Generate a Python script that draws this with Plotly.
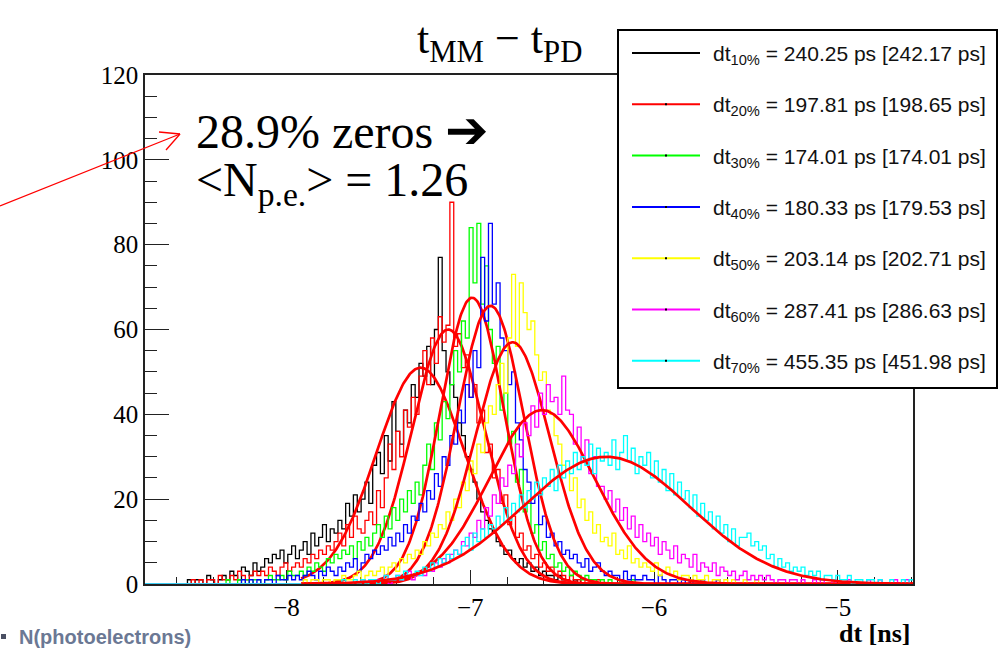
import numpy as np
import plotly.graph_objects as go

# ---------------- data ----------------
BIN_LO = -8.77
BIN_W = 0.021
N_BINS = 199
AXIS_X = [-8.77, -4.591]
AXIS_Y = [0, 120]
FIT_LO = -7.92

series_names = ["10%", "20%", "30%", "40%", "50%", "60%", "70%"]
series_colors = ["#000000", "#ff0000", "#00ff00", "#0000ff", "#ffff00", "#ff00ff", "#00ffff"]
sigma_ps = [240.25, 197.81, 174.01, 180.33, 203.14, 287.41, 455.35]
rms_ps = [242.17, 198.65, 174.01, 179.53, 202.71, 286.63, 451.98]
fit_amp = [51, 60, 67.5, 65.6, 57, 41, 30]
fit_mean = [-7.27, -7.12, -6.99, -6.89, -6.77, -6.61, -6.26]

# counts per bin, starting at the given bin index
black_start = 10
black_counts = [0, 1, 0, 1, 1, 0, 2, 1, 0, 1,
                2, 1, 3, 2, 1, 4, 3, 2, 5, 3,
                4, 6, 5, 7, 6, 8, 5, 7, 9, 6,
                8, 10, 7, 12, 9, 11, 14, 10, 13, 12,
                15, 13, 19, 16, 21, 17, 20, 24, 19, 28,
                31, 26, 35, 29, 43, 36, 33, 41, 38, 47,
                44, 52, 49, 56, 47, 60, 77, 55, 50, 47,
                44, 38, 35, 30, 27, 24, 20, 17, 15, 13,
                12, 10, 9, 7, 8, 6, 5, 6, 4, 5,
                3, 4, 2, 3, 2, 2, 1, 2, 1, 1,
                0, 1, 0]
red_start = 12
red_counts = [1, 0, 1, 0, 1, 1, 0, 2,
              1, 1, 2, 1, 3, 2, 1, 2, 3, 2,
              3, 2, 4, 3, 2, 4, 5, 3, 4, 5,
              4, 6, 5, 7, 6, 8, 7, 9, 8, 10,
              12, 9, 14, 11, 16, 13, 12, 15, 17, 14,
              22, 18, 25, 33, 27, 36, 30, 41, 37, 44,
              40, 49, 55, 47, 58, 52, 63, 57, 61, 90,
              56, 59, 51, 54, 44, 47, 38, 41, 31, 33,
              25, 27, 19, 21, 14, 16, 11, 12, 8, 9,
              6, 7, 4, 5, 3, 4, 2, 3, 2, 1,
              2, 1, 1, 0, 1, 1, 0, 1]
green_start = 20
green_counts = [0, 1, 0, 0, 1, 0, 1, 0, 1, 1,
                0, 1, 2, 1, 1, 2, 1, 3, 2, 2,
                3, 2, 4, 3, 5, 4, 3, 6, 5, 7,
                6, 8, 7, 9, 6, 10, 8, 11, 9, 12,
                14, 11, 16, 13, 18, 15, 20, 17, 22, 19,
                24, 21, 28, 33, 27, 38, 34, 43, 39, 47,
                55, 50, 62, 58, 84, 71, 85, 66, 75, 60,
                52, 56, 41, 45, 33, 36, 24, 27, 17, 19,
                12, 14, 8, 10, 6, 7, 4, 5, 3, 4,
                2, 3, 2, 1, 2, 1, 1, 0, 1, 0,
                1, 0, 0, 1, 0, 0, 1]
blue_start = 25
blue_counts = [1, 0, 1, 0, 1,
               0, 1, 1, 0, 2, 1, 1, 2, 1, 2,
               1, 2, 3, 2, 1, 3, 2, 4, 3, 2,
               4, 3, 5, 4, 6, 3, 5, 7, 6, 8,
               7, 9, 8, 11, 9, 12, 10, 14, 12, 16,
               15, 19, 17, 22, 20, 26, 23, 30, 28, 35,
               33, 41, 38, 47, 44, 55, 51, 77, 62, 85,
               66, 71, 58, 55, 47, 50, 38, 34, 27, 24,
               19, 21, 14, 16, 11, 12, 9, 10, 7, 8,
               6, 7, 5, 4, 6, 3, 4, 5, 3, 2,
               3, 2, 2, 1, 3, 1, 2, 1, 1, 2,
               1, 1, 0, 2, 1, 0, 1, 1, 0, 1,
               0, 1, 0, 0, 1, 0, 0, 0, 1]
yellow_start = 40
yellow_counts = [0, 1, 0, 1, 1, 0, 1, 1, 0, 1,
                 1, 2, 1, 1, 2, 3, 1, 2, 3, 2,
                 3, 4, 2, 4, 5, 3, 6, 5, 7, 6,
                 8, 7, 10, 9, 12, 11, 14, 13, 17, 15,
                 20, 18, 24, 22, 29, 26, 33, 31, 38, 42,
                 40, 47, 52, 45, 58, 73, 56, 71, 64, 60,
                 62, 54, 48, 50, 41, 40, 35, 33, 28, 27,
                 22, 25, 18, 20, 15, 17, 12, 14, 10, 11,
                 9, 12, 7, 8, 6, 9, 5, 6, 4, 5,
                 4, 3, 5, 2, 3, 4, 2, 3, 1, 2,
                 2, 1, 2, 1, 1, 2, 0, 1, 1, 0,
                 1, 0, 1, 0, 0, 1, 0, 0, 1]
magenta_start = 55
magenta_counts = [0, 1, 0, 1, 0,
                  1, 1, 2, 0, 1, 2, 1, 2, 3, 1,
                  2, 3, 2, 4, 3, 5, 4, 6, 5, 7,
                  8, 7, 10, 9, 12, 11, 15, 13, 18, 16,
                  21, 19, 25, 23, 28, 26, 33, 30, 38, 35,
                  42, 37, 45, 40, 47, 43, 44, 40, 49, 41,
                  40, 33, 37, 29, 34, 26, 30, 23, 23, 20,
                  22, 17, 20, 15, 18, 13, 16, 11, 14, 10,
                  12, 9, 11, 7, 10, 8, 6, 9, 5, 7,
                  6, 4, 7, 3, 5, 4, 3, 5, 2, 4,
                  3, 2, 3, 1, 2, 3, 1, 2, 1, 2,
                  1, 2, 1, 0, 1, 1, 0, 1, 1, 0,
                  1, 0, 0, 1, 0, 1, 0, 0, 1, 0,
                  0, 0, 1, 0, 0, 0, 0, 1, 0, 0,
                  1, 0, 0, 0, 1, 0, 0, 1, 0]
cyan_start = 50
cyan_counts = [0, 1, 0, 0, 1, 0, 1, 0, 1, 1,
               0, 1, 2, 1, 1, 2, 1, 3, 2, 2,
               3, 2, 4, 3, 5, 4, 6, 5, 7, 6,
               8, 7, 9, 11, 8, 12, 10, 13, 11, 14,
               13, 16, 14, 18, 15, 19, 17, 21, 18, 22,
               20, 24, 21, 25, 23, 27, 22, 28, 25, 29,
               26, 31, 27, 30, 28, 33, 26, 32, 29, 31,
               28, 34, 27, 31, 35, 29, 32, 26, 30, 28,
               31, 25, 29, 24, 27, 22, 26, 21, 24, 20,
               22, 18, 21, 16, 19, 15, 17, 13, 16, 12,
               14, 10, 13, 9, 11, 11, 12, 9, 10, 8,
               9, 6, 7, 4, 6, 4, 5, 3, 4, 3,
               4, 2, 3, 2, 3, 1, 2, 2, 1, 2,
               1, 1, 2, 0, 1, 1, 0, 1, 1, 0,
               1, 0, 0, 1, 0, 0, 1, 0, 1]

hist_starts = [black_start, red_start, green_start, blue_start, yellow_start, magenta_start, cyan_start]
hist_counts = [black_counts, red_counts, green_counts, blue_counts, yellow_counts, magenta_counts, cyan_counts]

# ---------------- layout helpers (pixel -> paper) ----------------
W, H = 999, 651
PL, PR, PT, PB = 145, 913, 75, 584


def px(x):
    return (x - PL) / (PR - PL)


def py(y):
    return (PB - y) / (PB - PT)


fig = go.Figure()
edges = BIN_LO + BIN_W * np.arange(N_BINS + 1)
xf = np.linspace(FIT_LO, AXIS_X[1], 700)

for k in range(len(series_names)):
    full = np.zeros(N_BINS)
    c = np.array(hist_counts[k], dtype=float)
    s = hist_starts[k]
    n = min(len(c), N_BINS - s)
    full[s:s + n] = c[:n]
    yh = np.append(full, full[-1])
    fig.add_trace(go.Scatter(x=edges, y=yh, mode="lines", line_shape="hv",
                             line=dict(color=series_colors[k], width=1.3),
                             hoverinfo="skip", showlegend=False))
    sig = sigma_ps[k] / 1000.0
    yfit = fit_amp[k] * np.exp(-0.5 * ((xf - fit_mean[k]) / sig) ** 2)
    fig.add_trace(go.Scatter(x=xf, y=yfit, mode="lines",
                             line=dict(color="#ff0000", width=2.7),
                             hoverinfo="skip", showlegend=False))

shapes = []
annotations = []

# legend box
LEG_X0, LEG_X1, LEG_Y0, LEG_Y1 = 618, 997, 30, 388
shapes.append(dict(type="rect", xref="paper", yref="paper",
                   x0=px(LEG_X0), x1=px(LEG_X1), y0=py(LEG_Y1), y1=py(LEG_Y0),
                   line=dict(color="black", width=2), fillcolor="white", layer="above"))
for k in range(len(series_names)):
    yk = 53 + 51.3 * k
    shapes.append(dict(type="line", xref="paper", yref="paper",
                       x0=px(632), x1=px(700), y0=py(yk), y1=py(yk),
                       line=dict(color=series_colors[k], width=2), layer="above"))
    shapes.append(dict(type="rect", xref="paper", yref="paper",
                       x0=px(665), x1=px(667), y0=py(yk + 1), y1=py(yk - 1),
                       line=dict(width=0), fillcolor="black", layer="above"))
    annotations.append(dict(xref="paper", yref="paper", x=px(711), y=py(yk + 2),
                            xanchor="left", yanchor="middle", showarrow=False,
                            text="dt<sub>%s</sub> = %.2f ps [%.2f ps]" % (series_names[k], sigma_ps[k], rms_ps[k]),
                            font=dict(family="Liberation Sans", size=21, color="#111111")))

# red arrow pointing to the annotation
arrow_col = "#ff0000"
shapes.append(dict(type="line", xref="paper", yref="paper",
                   x0=px(0), y0=py(206), x1=px(180), y1=py(134),
                   line=dict(color=arrow_col, width=1.3), layer="above"))
shapes.append(dict(type="line", xref="paper", yref="paper",
                   x0=px(180), y0=py(134), x1=px(159), y1=py(132),
                   line=dict(color=arrow_col, width=1.3), layer="above"))
shapes.append(dict(type="line", xref="paper", yref="paper",
                   x0=px(180), y0=py(134), x1=px(166), y1=py(150),
                   line=dict(color=arrow_col, width=1.3), layer="above"))

serif = "Liberation Serif"
annotations.append(dict(xref="paper", yref="paper", x=px(499), y=py(42),
                        xanchor="center", yanchor="middle", showarrow=False,
                        text="t<sub>MM</sub> \u2212 t<sub>PD</sub>",
                        font=dict(family=serif, size=44, color="black")))
annotations.append(dict(xref="paper", yref="paper", x=px(194), y=py(130),
                        xanchor="left", yanchor="middle", showarrow=False,
                        text="28.9% zeros <span style='font-size:52px'>\u2794</span>",
                        font=dict(family=serif, size=48, color="black")))
annotations.append(dict(xref="paper", yref="paper", x=px(194), y=py(183),
                        xanchor="left", yanchor="middle", showarrow=False,
                        text="&lt;N<sub>p.e.</sub>&gt; = 1.26",
                        font=dict(family=serif, size=48, color="black")))
annotations.append(dict(xref="paper", yref="paper", x=px(913), y=py(633),
                        xanchor="right", yanchor="middle", showarrow=False,
                        text="<b>dt [ns]</b>",
                        font=dict(family=serif, size=26, color="black")))
annotations.append(dict(xref="paper", yref="paper", x=px(17), y=py(637),
                        xanchor="left", yanchor="middle", showarrow=False,
                        text="<b>N(photoelectrons)</b>",
                        font=dict(family="Liberation Sans", size=20, color="#6b7894")))
shapes.append(dict(type="rect", xref="paper", yref="paper",
                   x0=px(1), x1=px(6), y0=py(639), y1=py(634),
                   line=dict(width=0), fillcolor="#4a5063", layer="above"))

fig.update_layout(
    width=W, height=H,
    margin=dict(l=PL, r=W - PR, t=PT, b=H - PB, autoexpand=False),
    plot_bgcolor="white", paper_bgcolor="white",
    showlegend=False,
    shapes=shapes, annotations=annotations,
    xaxis=dict(range=AXIS_X, showgrid=False, zeroline=False,
               showline=True, mirror=True, linecolor="#222222", linewidth=1.5,
               ticks="inside", ticklen=14, tickwidth=1.2, tickcolor="#222222",
               tick0=0, dtick=1,
               minor=dict(dtick=0.2, ticklen=7, ticks="inside", tickcolor="#222222", tickwidth=1.2),
               tickfont=dict(family=serif, size=25, color="black"),
               layer="below traces"),
    yaxis=dict(range=AXIS_Y, showgrid=False, zeroline=False,
               showline=True, mirror=True, linecolor="#222222", linewidth=1.5,
               ticks="inside", ticklen=24, tickwidth=1.2, tickcolor="#222222",
               tick0=0, dtick=20,
               minor=dict(dtick=5, ticklen=12, ticks="inside", tickcolor="#222222", tickwidth=1.2),
               tickfont=dict(family=serif, size=25, color="black"),
               layer="below traces"),
)

fig.write_html("out.html", config={"displayModeBar": False},
               post_script="document.body.style.margin='0';document.body.style.overflow='hidden';")
